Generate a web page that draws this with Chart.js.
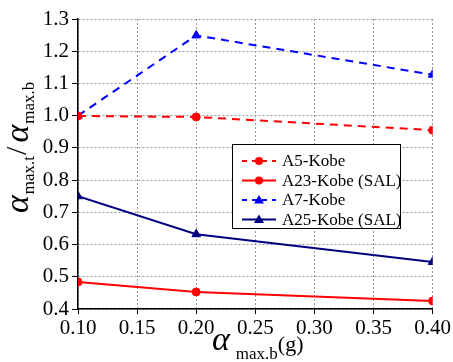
<!DOCTYPE html>
<html><head><meta charset="utf-8">
<script src="https://cdn.jsdelivr.net/npm/chart.js@4"></script>
<style>html,body{margin:0;padding:0;background:#fff}#wrap{width:453px;height:362px}</style>
</head><body><div id="wrap"><canvas id="c" width="453" height="362"></canvas></div>
<script>
const xValues = [0.10, 0.20, 0.40];
const a5Kobe = [0.999, 0.996, 0.955];
const a23Kobe = [0.484, 0.453, 0.425];
const a7Kobe = [1.000, 1.249, 1.127];
const a25Kobe = [0.750, 0.632, 0.546];
const seriesNames = ['A5-Kobe', 'A23-Kobe (SAL)', 'A7-Kobe', 'A25-Kobe (SAL)'];
const SERIF = "'Liberation Serif', 'DejaVu Serif', serif";

function pts(vals){ return xValues.map((x,i)=>({x:x,y:vals[i]})); }

const styles = [
  {color:'#ff0000', dash:[8,6], point:'circle', r:4},
  {color:'#ff0000', dash:[], point:'circle', r:4},
  {color:'#0000ff', dash:[8,6], point:'triangle', r:5},
  {color:'#000080', dash:[], point:'triangle', r:5}
];
const allData = [a5Kobe, a23Kobe, a7Kobe, a25Kobe];

const datasets = allData.map((d,i)=>({
  label: seriesNames[i], data: pts(d),
  borderColor: styles[i].color, backgroundColor: styles[i].color,
  borderDash: styles[i].dash, borderWidth: 2,
  pointStyle: styles[i].point, pointRadius: styles[i].r, pointHoverRadius: styles[i].r,
  pointBorderWidth: 1, tension: 0, fill: false
}));

const decor = {
  id:'decor',
  afterDraw(chart){
    const ctx = chart.ctx;
    ctx.save();
    // Legend
    const bx=232, by=144, bw=168, bh=84;
    ctx.fillStyle='#fff'; ctx.fillRect(bx,by,bw,bh);
    ctx.strokeStyle='#000'; ctx.lineWidth=1; ctx.setLineDash([]);
    ctx.strokeRect(bx+0.5,by+0.5,bw,bh);
    for(let i=0;i<4;i++){
      const yy = by + 17 + i*19.5;
      const s = styles[i];
      ctx.strokeStyle=s.color; ctx.lineWidth=2;
      ctx.setLineDash(s.dash.length? [5,5]:[]);
      ctx.beginPath(); ctx.moveTo(242,yy); ctx.lineTo(276,yy); ctx.stroke();
      ctx.setLineDash([]);
      ctx.fillStyle=s.color;
      ctx.beginPath();
      if(s.point==='circle'){ ctx.arc(259,yy,4,0,Math.PI*2); }
      else { ctx.moveTo(259,yy-5); ctx.lineTo(264,yy+3.5); ctx.lineTo(254,yy+3.5); ctx.closePath(); }
      ctx.fill();
      ctx.fillStyle='#000'; ctx.font='17px '+SERIF; ctx.textBaseline='middle'; ctx.textAlign='left';
      ctx.fillText(seriesNames[i], 282, yy+1);
    }
    // Y title
    ctx.fillStyle='#000'; ctx.textBaseline='alphabetic';
    ctx.translate(28, 213); ctx.rotate(-Math.PI/2);
    let x=0;
    ctx.font='italic 34px '+SERIF; ctx.fillText('α', x, 0); x+=ctx.measureText('α').width+1;
    ctx.font='17px '+SERIF; ctx.fillText('max.t', x, 6); x+=ctx.measureText('max.t').width+1;
    ctx.font='30px '+SERIF; ctx.fillText('/', x, -2); x+=ctx.measureText('/').width+4;
    ctx.font='italic 34px '+SERIF; ctx.fillText('α', x, 0); x+=ctx.measureText('α').width+1;
    ctx.font='17px '+SERIF; ctx.fillText('max.b', x, 6);
    ctx.setTransform(1,0,0,1,0,0);
    // X title
    x=212;
    ctx.font='italic 34px '+SERIF; ctx.fillText('α', x, 350); x+=ctx.measureText('α').width+6;
    ctx.font='17px '+SERIF; ctx.fillText('max.b', x, 359); x+=ctx.measureText('max.b').width;
    ctx.font='22px '+SERIF; ctx.fillText('(g)', x, 351);
    ctx.restore();
  }
};

new Chart(document.getElementById('c'), {
  type:'line',
  data:{datasets},
  options:{
    responsive:false, animation:false, devicePixelRatio:1,
    layout:{padding:{top:19, right:19, left:0, bottom:0}},
    plugins:{legend:{display:false}, tooltip:{enabled:false}},
    scales:{
      x:{type:'linear', min:0.1, max:0.4,
        ticks:{stepSize:0.05, color:'#000', font:{family:SERIF, size:21}, padding:2, maxRotation:0,
          callback:v=>Number(v).toFixed(2)},
        grid:{color:'#999', lineWidth:1, tickColor:'#000', tickLength:5, tickBorderDash:[]},
        border:{display:true, color:'#000', width:1.5, dash:[2,2]},
        afterFit(s){ s.height=53; }
      },
      y:{min:0.4, max:1.3,
        ticks:{stepSize:0.1, color:'#000', font:{family:SERIF, size:21}, padding:3,
          callback:v=>Number(v).toFixed(1)},
        grid:{color:'#999', lineWidth:1, tickColor:'#000', tickLength:6, tickBorderDash:[]},
        border:{display:true, color:'#000', width:1.5, dash:[2,2]},
        afterFit(s){ s.width=78; }
      }
    }
  },
  plugins:[decor]
});
</script></body></html>
